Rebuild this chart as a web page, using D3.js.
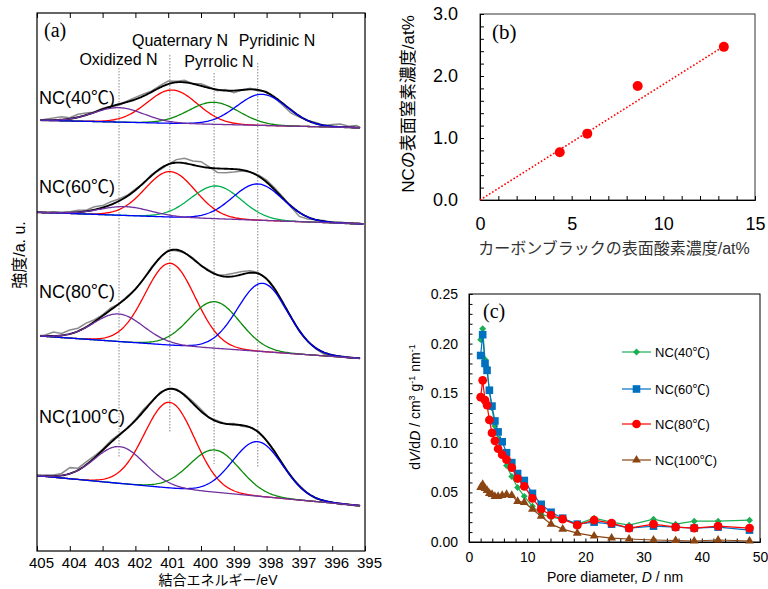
<!DOCTYPE html>
<html><head><meta charset="utf-8">
<script src="https://cdn.jsdelivr.net/npm/d3@7"></script>
<style>
body{margin:0;background:#fff}
svg{display:block}
text{font-family:"Liberation Sans",Arial,"Noto Sans CJK JP",sans-serif;fill:#000}
.serif{font-family:"Liberation Serif","Times New Roman",serif}
</style>
</head><body>
<svg id="chart" width="768" height="589"></svg>
<script>
// ================= DATA =================
// (a) XPS N1s spectra
const spectraLabels = ["NC(40℃)", "NC(60℃)", "NC(80℃)", "NC(100℃)"];
const peakNames = ["Oxidized N", "Quaternary N", "Pyrrolic N", "Pyridinic N"];
const energyTicks = [405, 404, 403, 402, 401, 400, 399, 398, 397, 396, 395];
const peakRefEnergy = [402.5, 400.95, 399.6, 398.27];
const refLineTop = [483, 496, 478, 488];      // intensity (a.u.)
const refLineBottom = [93, 118, 87, 84];
const spectrumRange = [[404.9, 395.15], [405, 395.05], [404.9, 395.15], [405, 395.15]];
const baseLeft = [430.8, 338.7, 215.2, 75.3];   // baseline at 405 eV
const baseRight = [423.2, 327.0, 192.3, 44.9];  // baseline at 395 eV
// components: [oxidized, quaternary, pyrrolic, pyridinic]
const peakCenters = [
  [402.51, 400.88, 399.61, 398.14],
  [402.31, 400.94, 399.54, 398.27],
  [402.51, 400.94, 399.58, 398.12],
  [402.48, 400.96, 399.58, 398.27]];
const peakHeights = [
  [14.4, 33.3, 22.0, 31.1],
  [8.8, 45.4, 32.7, 36.2],
  [27.5, 81.8, 46.5, 68.2],
  [36.7, 85.7, 42.2, 54.5]];
const peakFwhm = [
  [1.8, 1.8, 1.8, 1.8],
  [1.8, 1.8, 1.8, 1.8],
  [1.8, 1.8, 1.8, 1.8],
  [1.8, 1.8, 1.8, 1.8]];
// measured minus fit, every 0.25 eV from 405 to 395
const rawResidual = [
  [0,1,2,3,1,3,2,0,1,0,-1,1,2,2,1,2,3,1,2,0,2,1,-1,1,-2,0,1,-1,1,-1,-2,-3,-1,0,1,0,2,3,1,2,0],
  [0,0,1,0,1,2,1,3,2,3,2,1,1,0,1,-1,0,3,5,4,5,1,-4,-4,-3,-1,0,1,2,2,1,-1,-4,-2,0,1,0,1,0,1,0],
  [0,1,4,2,4,3,4,2,1,2,0,1,0,0,1,0,1,-1,0,1,0,1,0,2,3,3,2,1,0,-1,-2,0,-1,0,-1,-2,-1,0,-1,0,0],
  [0,1,1,2,6,2,3,2,1,2,1,0,1,2,0,1,0,1,1,2,2,0,1,0,1,-1,0,1,0,1,-1,0,1,0,-1,0,0,-1,0,-1,0]];

// (b)
const oxygenConc = [4.35, 5.85, 8.6, 13.3];
const nitrogenConc = [0.77, 1.07, 1.84, 2.47];
const trendX = [0, 13.3];
const trendY = [0, 2.48];

// (c) pore size distribution
const poreD = [2.0, 2.35, 2.75, 3.1, 3.5, 3.95, 4.45, 5.0, 5.7, 6.45, 7.35, 8.35, 9.5, 10.9, 12.4, 14.1, 16.1, 18.6, 21.5, 24.5, 27.5, 31.7, 35.5, 38.7, 42.8, 48.2];
const dv40 = [0.204, 0.215, 0.184, 0.176, 0.152, 0.135, 0.117, 0.104, 0.090, 0.077, 0.066, 0.055, 0.046, 0.036, 0.028, 0.025, 0.023, 0.018, 0.024, 0.020, 0.017, 0.023, 0.018, 0.021, 0.021, 0.022];
const dv60 = [0.188, 0.209, 0.180, 0.173, 0.153, 0.137, 0.122, 0.111, 0.101, 0.090, 0.080, 0.069, 0.062, 0.049, 0.038, 0.030, 0.024, 0.018, 0.020, 0.018, 0.014, 0.016, 0.015, 0.014, 0.015, 0.012];
const dv80 = [0.146, 0.163, 0.143, 0.138, 0.123, 0.110, 0.102, 0.094, 0.088, 0.083, 0.075, 0.064, 0.056, 0.044, 0.033, 0.027, 0.023, 0.017, 0.022, 0.019, 0.014, 0.018, 0.015, 0.014, 0.016, 0.014];
const dv100 = [0.055, 0.058, 0.054, 0.052, 0.049, 0.048, 0.046, 0.046, 0.047, 0.048, 0.047, 0.041, 0.040, 0.033, 0.026, 0.018, 0.013, 0.009, 0.006, 0.004, 0.003, 0.002, 0.0015, 0.001, 0.002, 0.001];
const seriesNames = ["NC(40℃)", "NC(60℃)", "NC(80℃)", "NC(100℃)"];

// ================= DRAW =================
const svg = d3.select("#chart");

// ---------- (a) ----------
const xA = d3.scaleLinear().domain([405, 395]).range([37, 365]);
const yA = d3.scaleLinear().domain([0, 538]).range([551, 13]);
const compColors = ["#7030a0", "#ff0000", "#0a8a0a", "#0000ff"];
const greenBySpectrum = ["#0a8a0a", "#00b050", "#0a8a0a", "#0a8a0a"];
const gauss = (E, c, h, w) => h * Math.exp(-4 * Math.LN2 * (E - c) * (E - c) / (w * w));
const baseAt = (i, E) => baseLeft[i] + (baseRight[i] - baseLeft[i]) * (405 - E) / 10;
const envAt = (i, E) => {
  let s = baseAt(i, E);
  for (let k = 0; k < 4; k++) s += gauss(E, peakCenters[i][k], peakHeights[i][k], peakFwhm[i][k]);
  return s;
};
const lineA = d3.line().x(d => xA(d[0])).y(d => yA(d[1]));
const gA = svg.append("g");

// reference dotted lines
peakRefEnergy.forEach((e, k) => {
  gA.append("line").attr("x1", xA(e)).attr("x2", xA(e))
    .attr("y1", yA(refLineTop[k])).attr("y2", yA(refLineBottom[k]))
    .attr("stroke", "#888").attr("stroke-width", 1).attr("stroke-dasharray", "1.5,1.5");
});

spectraLabels.forEach((lab, i) => {
  const [e0, e1] = spectrumRange[i];
  const es = d3.range(e0, e1, -0.04).concat([e1]);
  // raw data
  const raw = [];
  rawResidual[i].forEach((r, j) => {
    const E = 405 - 0.25 * j;
    if (E <= e0 + 1e-9 && E >= e1 - 1e-9) raw.push([E, envAt(i, E) + r]);
  });
  if (raw[0][0] < e0) raw.unshift([e0, envAt(i, e0)]);
  if (raw[raw.length - 1][0] > e1) raw.push([e1, envAt(i, e1)]);
  gA.append("path").attr("d", lineA(raw)).attr("fill", "none")
    .attr("stroke", "#8c8c8c").attr("stroke-width", 1.5);
  // envelope
  gA.append("path").attr("d", lineA(es.map(E => [E, envAt(i, E)]))).attr("fill", "none")
    .attr("stroke", "#000").attr("stroke-width", 1.9);
  // components
  [1, 2, 3, 0].forEach(k => {
    const pts = es.map(E => [E, baseAt(i, E) + gauss(E, peakCenters[i][k], peakHeights[i][k], peakFwhm[i][k])]);
    gA.append("path").attr("d", lineA(pts)).attr("fill", "none")
      .attr("stroke", k === 2 ? greenBySpectrum[i] : compColors[k]).attr("stroke-width", 1.3);
  });
});

// spectrum labels
const specLabelY = [104, 193, 298, 423];
spectraLabels.forEach((lab, i) => {
  gA.append("text").attr("x", 39).attr("y", specLabelY[i]).attr("font-size", 18).text(lab);
});
// peak name labels
const peakLabelPos = [[118.5, 65], [180, 46], [219, 66.5], [277, 46]];
peakNames.forEach((n, k) => {
  gA.append("text").attr("x", peakLabelPos[k][0]).attr("y", peakLabelPos[k][1])
    .attr("text-anchor", "middle").attr("font-size", 16).text(n);
});
gA.append("text").attr("class", "serif").attr("x", 44).attr("y", 37).attr("font-size", 20).text("(a)");

// frame & axes (a)
gA.append("rect").attr("x", 37).attr("y", 13).attr("width", 328).attr("height", 538)
  .attr("fill", "none").attr("stroke", "#000").attr("stroke-width", 1.2);
const axA = gA.append("g").attr("transform", "translate(0,551)")
  .call(d3.axisBottom(xA).tickValues(energyTicks).tickSize(-5).tickPadding(6).tickFormat(d3.format("d")));
axA.select(".domain").remove();
axA.selectAll("text").attr("font-size", 15).attr("dx", 4).style("font-family", '"Liberation Sans",Arial,sans-serif');
const axAt = gA.append("g").attr("transform", "translate(0,13)")
  .call(d3.axisTop(xA).tickValues(energyTicks).tickSize(-5).tickFormat(""));
axAt.select(".domain").remove();
gA.append("text").attr("x", 218).attr("y", 585).attr("text-anchor", "middle").attr("font-size", 14).text("結合エネルギー/eV");
gA.append("text").attr("transform", "translate(19,255) rotate(-90)").attr("text-anchor", "middle")
  .attr("dominant-baseline", "central").attr("font-size", 16).text("強度/a. u.");

// ---------- (b) ----------
const xB = d3.scaleLinear().domain([0, 15]).range([480, 755]);
const yB = d3.scaleLinear().domain([0, 3]).range([200, 14]);
const gB = svg.append("g");
gB.append("rect").attr("x", 480).attr("y", 14).attr("width", 275).attr("height", 186)
  .attr("fill", "none").attr("stroke", "#333").attr("stroke-width", 1);
const isInt = d => Math.abs(d - Math.round(d)) < 1e-6;
const axBx = gB.append("g").attr("transform", "translate(0,200)")
  .call(d3.axisBottom(xB).tickValues(d3.range(0, 15.001, 1)).tickSize(-4).tickPadding(17)
    .tickFormat(d => (isInt(d) && Math.round(d) % 5 === 0) ? Math.round(d) : ""));
axBx.selectAll("text").attr("font-size", 18);
const axBy = gB.append("g").attr("transform", "translate(480,0)")
  .call(d3.axisLeft(yB).tickValues(d3.range(0, 3.001, 0.2)).tickSize(-4).tickPadding(22)
    .tickFormat(d => isInt(d) ? d3.format(".1f")(d) : ""));
axBy.selectAll("text").attr("font-size", 18);
[axBx, axBy].forEach(a => a.select(".domain").attr("stroke", "#000"));
gB.append("line").attr("x1", xB(trendX[0])).attr("y1", yB(trendY[0]))
  .attr("x2", xB(trendX[1])).attr("y2", yB(trendY[1]))
  .attr("stroke", "#ff0000").attr("stroke-width", 1.6).attr("stroke-dasharray", "1.6,2");
gB.selectAll("circle.pt").data(oxygenConc).join("circle").attr("class", "pt")
  .attr("cx", (d, i) => xB(d)).attr("cy", (d, i) => yB(nitrogenConc[i])).attr("r", 5)
  .attr("fill", "#ff0000");
gB.append("text").attr("class", "serif").attr("x", 492).attr("y", 39).attr("font-size", 21).text("(b)");
gB.append("text").attr("x", 614).attr("y", 254).attr("text-anchor", "middle").attr("font-size", 16)
  .style("fill", "#333").text("カーボンブラックの表面酸素濃度/at%");
gB.append("text").attr("transform", "translate(408,104) rotate(-90)").attr("text-anchor", "middle")
  .attr("dominant-baseline", "central").attr("font-size", 17).text("NCの表面窒素濃度/at%");

// ---------- (c) ----------
const xC = d3.scaleLinear().domain([0, 50]).range([469, 760]);
const yC = d3.scaleLinear().domain([0, 0.25]).range([542, 294]);
const gC = svg.append("g");
gC.append("rect").attr("x", 469).attr("y", 294).attr("width", 291).attr("height", 248)
  .attr("fill", "none").attr("stroke", "#000").attr("stroke-width", 1);
const axCx = gC.append("g").attr("transform", "translate(0,542)")
  .call(d3.axisBottom(xC).tickValues(d3.range(0, 50.001, 2)).tickSize(-3.5).tickPadding(10)
    .tickFormat(d => Math.round(d) % 10 === 0 ? Math.round(d) : ""));
axCx.selectAll("text").attr("font-size", 14);
const axCy = gC.append("g").attr("transform", "translate(469,0)")
  .call(d3.axisLeft(yC).tickValues(d3.range(0, 0.2501, 0.01)).tickSize(-3.5).tickPadding(11)
    .tickFormat(d => (Math.abs(d * 20 - Math.round(d * 20)) < 1e-6) ? d3.format(".2f")(d) : ""));
axCy.selectAll("text").attr("font-size", 14);

const seriesVals = [dv40, dv60, dv80, dv100];
const seriesColors = ["#1aaf54", "#0070c0", "#ff0000", "#8b4513"];
const symTypes = [d3.symbolSquare, d3.symbolSquare, d3.symbolCircle, d3.symbolTriangle];
const symSizes = [24, 58, 60, 34];
const symRot = [45, 0, 0, 0];
const lineC = d3.line().x(d => xC(d[0])).y(d => yC(d[1]));
seriesVals.forEach((vals, s) => {
  const pts = poreD.map((d, j) => [d, vals[j]]);
  gC.append("path").attr("d", lineC(pts)).attr("fill", "none")
    .attr("stroke", seriesColors[s]).attr("stroke-width", 1.2);
  gC.selectAll("path.m" + s).data(pts).join("path").attr("class", "m" + s)
    .attr("d", d3.symbol().type(symTypes[s]).size(symSizes[s]))
    .attr("transform", d => `translate(${xC(d[0])},${yC(d[1])}) rotate(${symRot[s]})`)
    .attr("fill", seriesColors[s]);
});
// legend
const legY = [352, 389, 424, 460];
seriesNames.forEach((n, s) => {
  gC.append("line").attr("x1", 622).attr("x2", 651).attr("y1", legY[s]).attr("y2", legY[s])
    .attr("stroke", seriesColors[s]).attr("stroke-width", 1.2);
  gC.append("path").attr("d", d3.symbol().type(symTypes[s]).size(symSizes[s])())
    .attr("transform", `translate(636.5,${legY[s]}) rotate(${symRot[s]})`).attr("fill", seriesColors[s]);
  gC.append("text").attr("x", 655).attr("y", legY[s]).attr("dy", "0.36em").attr("font-size", 13).text(n);
});
gC.append("text").attr("class", "serif").attr("x", 483).attr("y", 318).attr("font-size", 20).text("(c)");
// x label
const xl = gC.append("text").attr("x", 615).attr("y", 582).attr("text-anchor", "middle").attr("font-size", 14);
xl.append("tspan").text("Pore diameter, ");
xl.append("tspan").attr("font-style", "italic").text("D");
xl.append("tspan").text(" / nm");
// y label
const yl = gC.append("text").attr("transform", "translate(420,407) rotate(-90)").attr("text-anchor", "middle").attr("font-size", 14);
yl.append("tspan").text("d");
yl.append("tspan").attr("font-style", "italic").text("V");
yl.append("tspan").text("/d");
yl.append("tspan").attr("font-style", "italic").text("D");
yl.append("tspan").text(" / cm");
yl.append("tspan").attr("font-size", 9).attr("dy", -5).text("3");
yl.append("tspan").attr("dy", 5).text(" g");
yl.append("tspan").attr("font-size", 9).attr("dy", -5).text("-1");
yl.append("tspan").attr("dy", 5).text(" nm");
yl.append("tspan").attr("font-size", 9).attr("dy", -5).text("-1");
</script>
</body></html>
